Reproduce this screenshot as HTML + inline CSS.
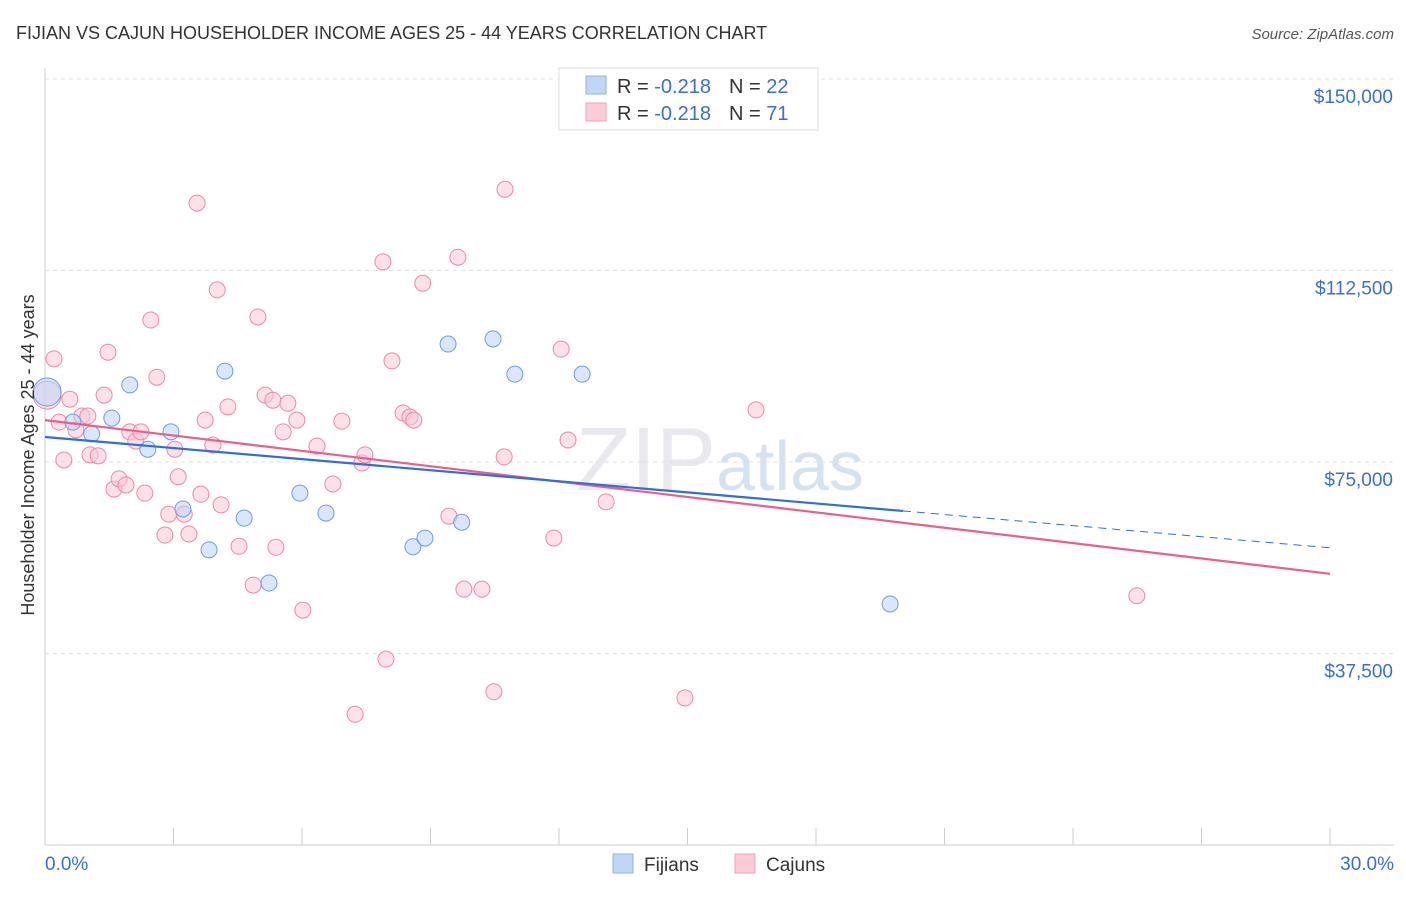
<!DOCTYPE html>
<html><head><meta charset="utf-8"><style>
body{margin:0;background:#fff;font-family:"Liberation Sans",sans-serif;}
svg text{font-family:"Liberation Sans",sans-serif;}
</style></head><body>
<svg id="chart" width="1406" height="892" xmlns="http://www.w3.org/2000/svg">
<text x="16" y="39" font-size="18" fill="#333">FIJIAN VS CAJUN HOUSEHOLDER INCOME AGES 25 - 44 YEARS CORRELATION CHART</text>
<text x="1394" y="39" font-size="15" fill="#555" text-anchor="end" font-style="italic">Source: ZipAtlas.com</text>
<text x="720" y="490" font-size="90" fill="#e8e8ee" text-anchor="middle" font-family="Liberation Serif">ZIP<tspan fill="#d4e2f3" font-family="Liberation Sans" font-size="70">atlas</tspan></text>
<g id="grid"></g>
<g id="axes"></g>
<g id="lines"></g>
<g id="pts"></g>
<text transform="translate(34,455) rotate(-90)" font-size="18" fill="#333" text-anchor="middle">Householder Income Ages 25 - 44 years</text>
<g>
<rect x="559" y="68" width="259" height="62" fill="#fff" stroke="#ddd"/>
<rect x="586" y="76" width="20" height="18" fill="#c0d6f5" stroke="#8fb3e6"/>
<rect x="586" y="103" width="20" height="18" fill="#fbcbd8" stroke="#eea1b7"/>
<text x="617" y="93" font-size="20" fill="#333">R = <tspan fill="#3a6fcc">-0.218</tspan><tspan dx="18">N = </tspan><tspan fill="#3a6fcc">22</tspan></text>
<text x="617" y="120" font-size="20" fill="#333">R = <tspan fill="#3a6fcc">-0.218</tspan><tspan dx="18">N = </tspan><tspan fill="#3a6fcc"> 71</tspan></text>
</g>
<g>
<rect x="613" y="854" width="20" height="19" fill="#c0d6f5" stroke="#8fb3e6"/>
<text x="644" y="871" font-size="19" fill="#333">Fijians</text>
<rect x="735" y="854" width="20" height="19" fill="#fbcbd8" stroke="#eea1b7"/>
<text x="766" y="871" font-size="19" fill="#333">Cajuns</text>
</g>
</svg>
<script>
const NS="http://www.w3.org/2000/svg";
const fijX=[0.05,0.65,1.09,1.56,1.98,2.40,2.94,3.22,3.83,4.20,4.65,5.23,5.95,6.56,8.59,8.87,9.41,9.73,10.46,10.97,12.54,19.73];
const fijY=[88700,82800,80500,83600,90100,77500,80900,65800,57800,92800,64000,51300,68900,65000,58400,60100,98100,63200,99100,92200,92200,47200];
const cajX=[0.05,0.21,0.33,0.44,0.58,0.72,0.86,1.00,1.05,1.24,1.38,1.47,1.61,1.73,1.89,1.98,2.12,2.24,2.33,2.47,2.61,2.80,2.89,3.03,3.11,3.25,3.36,3.55,3.64,3.74,3.92,4.02,4.11,4.27,4.53,4.86,4.97,5.14,5.32,5.39,5.56,5.67,5.88,6.02,6.35,6.72,6.93,7.24,7.40,7.47,7.89,7.96,8.10,8.36,8.52,8.61,8.82,9.43,9.64,9.78,10.20,10.48,10.72,10.74,11.88,12.05,12.21,13.10,14.94,16.60,25.49];
const cajY=[88100,95200,82800,75400,87300,81300,84000,84000,76400,76200,88100,96500,69700,71700,70500,80900,79100,80900,68900,102800,91600,60700,64800,77500,72100,64800,60900,125700,68700,83200,78300,108700,66600,85800,58500,50900,103400,88100,87100,58300,80900,86500,83200,46000,78100,70700,83000,25600,74800,76400,114200,36400,94800,84600,83800,83200,110000,64400,115100,50100,50100,30000,76000,128400,60100,97100,79300,67200,28800,85200,48800];
const yTicks=[37500,75000,112500,150000];
const yTickLabels=["$37,500","$75,000","$112,500","$150,000"];
const fijTrend=[79900,58200]; // at 0% and 30%
const fijSolidEnd=20.03;
const cajTrend=[83200,53100];
const X=v=>45+v/30*1285;
const Y=v=>845-v/37500*191.5;
function el(t,a,p){const e=document.createElementNS(NS,t);for(const k in a)e.setAttribute(k,a[k]);p.appendChild(e);return e;}
const grid=document.getElementById('grid'),axes=document.getElementById('axes'),lines=document.getElementById('lines'),pts=document.getElementById('pts');
yTicks.forEach((t,i)=>{
 const l=el('line',{x1:45,x2:1394,y1:Y(t),y2:Y(t),stroke:'#e2e2e2','stroke-dasharray':'4,4'},grid);
 
 
 const tx=el('text',{x:1393,y:Y(t)+24,'font-size':19,fill:'#3a6fcc','text-anchor':'end'},axes);
 tx.textContent=yTickLabels[i];
 
 
});
el('line',{x1:45,x2:45,y1:68,y2:845,stroke:'#ccc'},axes);
el('line',{x1:45,x2:1394,y1:845,y2:845,stroke:'#ccc'},axes);
for(let i=1;i<=10;i++){const x=X(i*3);el('line',{x1:x,x2:x,y1:828,y2:845,stroke:'#ccc'},axes);}
const xl0=el('text',{x:45,y:870,'font-size':19,fill:'#3a6fcc'},axes);xl0.textContent='0.0%';


const xl1=el('text',{x:1394,y:870,'font-size':19,fill:'#3a6fcc','text-anchor':'end'},axes);xl1.textContent='30.0%';


const fy=x=>fijTrend[0]+(fijTrend[1]-fijTrend[0])*x/30;
function dots(xs,ys,fill,stroke,name){xs.forEach((x,i)=>{const c=el('circle',{cx:X(x),cy:Y(ys[i]),r:i===0?14:8,fill:fill,'fill-opacity':0.55,stroke:stroke,'stroke-width':1},pts);
 
 });}
dots(cajX,cajY,'#fbc6d5','#e98aa7','cajun-point');
dots(fijX,fijY,'#bcd4f5','#6f9be0','fijian-point');
const l1=el('line',{x1:X(0),y1:Y(cajTrend[0]),x2:X(30),y2:Y(cajTrend[1]),stroke:'#e8608c','stroke-width':2.2},lines);

const l2=el('line',{x1:X(0),y1:Y(fy(0)),x2:X(fijSolidEnd),y2:Y(fy(fijSolidEnd)),stroke:'#2f6fd6','stroke-width':2.2},lines);

const l3=el('line',{x1:X(fijSolidEnd),y1:Y(fy(fijSolidEnd)),x2:X(30),y2:Y(fy(30)),stroke:'#2f6fd6','stroke-width':1,'stroke-dasharray':'8,6'},lines);

pts.parentNode.appendChild(lines);pts.parentNode.insertBefore(lines,pts.nextSibling);
</script>
</body></html>
